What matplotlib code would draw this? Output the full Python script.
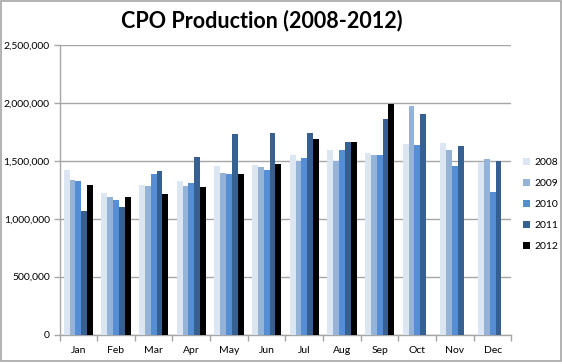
import matplotlib
matplotlib.use("Agg")
import matplotlib.pyplot as plt
import numpy as np
from matplotlib.ticker import FuncFormatter, MultipleLocator
from matplotlib.patches import Rectangle

months = ["Jan", "Feb", "Mar", "Apr", "May", "Jun", "Jul", "Aug", "Sep", "Oct", "Nov", "Dec"]
years = ["2008", "2009", "2010", "2011", "2012"]

v2008 = [1417000, 1220000, 1294000, 1323000, 1454000, 1463000, 1551000, 1594000, 1571000, 1646000, 1654000, 1486000]
v2009 = [1331000, 1189000, 1280000, 1280000, 1394000, 1449000, 1500000, 1500000, 1554000, 1974000, 1589000, 1517000]
v2010 = [1323000, 1160000, 1383000, 1306000, 1383000, 1423000, 1520000, 1597000, 1554000, 1637000, 1457000, 1231000]
v2011 = [1063000, 1100000, 1411000, 1529000, 1734000, 1743000, 1743000, 1663000, 1860000, 1906000, 1626000, 1494000]
v2012 = [1289000, 1189000, 1214000, 1271000, 1386000, 1469000, 1689000, 1663000, 1994000, np.nan, np.nan, np.nan]

series = [v2008, v2009, v2010, v2011, v2012]
colors = ["#dce6f2", "#95b3d7", "#558ed5", "#376092", "#000000"]

plt.rcParams['font.family'] = ['Lato', 'DejaVu Sans']

fig = plt.figure(figsize=(5.62, 3.64), dpi=100)
ax = fig.add_axes([59.5/562, 1-334.5/364, (511.5-59.5)/562, (334.5-45)/364])

x = np.arange(len(months))
bw = 0.155
for i, (vals, c, y) in enumerate(zip(series, colors, years)):
    ax.bar(x + (i - 2) * bw, vals, width=bw, color=c, label=y, zorder=3, linewidth=0)

ax.set_xlim(-0.5, 11.5)
ax.set_ylim(0, 2500000)
ax.yaxis.set_major_locator(MultipleLocator(500000))
ax.yaxis.set_major_formatter(FuncFormatter(lambda v, p: f"{int(v):,}"))
ax.grid(axis='y', color='#a6a6a6', linewidth=1, zorder=0)
ax.set_axisbelow(True)

ax.set_xticks(x)
ax.set_xticklabels(months)
ax.set_xticks(np.arange(-0.5, 12, 1), minor=True)
ax.tick_params(axis='x', which='major', length=0, labelsize=7.5, pad=8)
ax.tick_params(axis='x', which='minor', length=4, color='#a6a6a6', width=1)
ax.tick_params(axis='y', which='major', length=4, color='#a6a6a6', width=1, labelsize=7.5, pad=3)

for s in ['top', 'right']:
    ax.spines[s].set_visible(False)
for s in ['left', 'bottom']:
    ax.spines[s].set_color('#a6a6a6')
    ax.spines[s].set_linewidth(1)

fig.text(0.465, 0.945, "CPO Production (2008-2012)", ha='center', va='center',
         fontsize=15.5, fontweight='bold')

leg = fig.legend(loc='upper left', bbox_to_anchor=(519/562, 1-154/364), frameon=False,
                 fontsize=7.5, handlelength=0.7, handleheight=0.7, handletextpad=0.4,
                 labelspacing=1.12, borderaxespad=0)

fig.patches.append(Rectangle((0.5/562, 3/364), 560.5/562, 360.5/364, transform=fig.transFigure,
                             fill=False, edgecolor='#a6a6a6', linewidth=1.2))

fig.savefig("out.png", dpi=100)
